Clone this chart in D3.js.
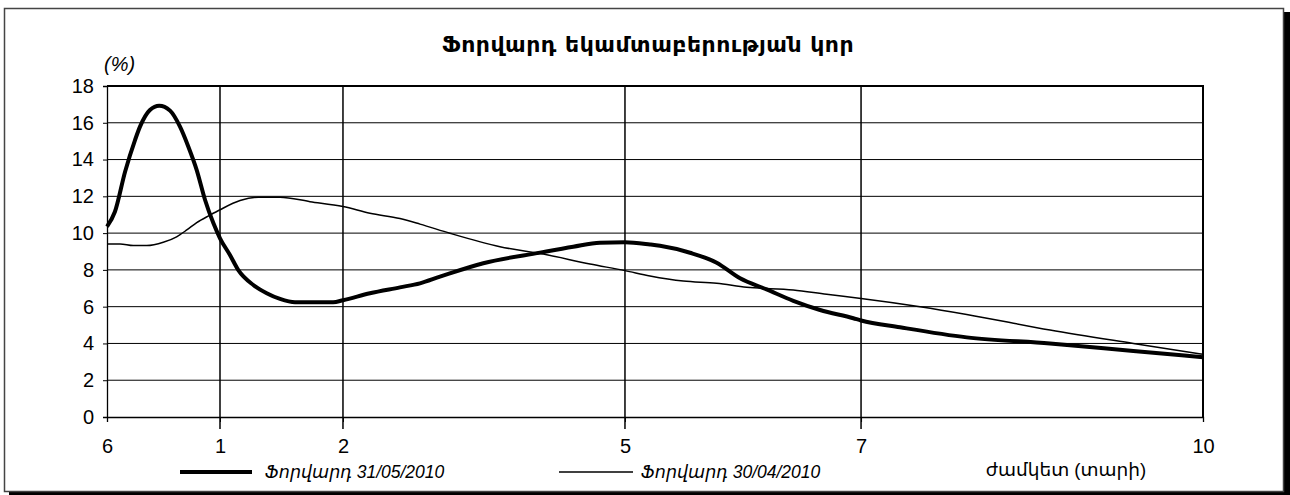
<!DOCTYPE html>
<html>
<head>
<meta charset="utf-8">
<script src="https://cdn.jsdelivr.net/npm/d3@7"></script>
<style>
  body { margin: 0; background: #fff; }
  svg text { font-family: "Liberation Sans", "DejaVu Sans", sans-serif; fill: #000; }
</style>
</head>
<body>
<div id="chart"></div>
<script>
// data (maturity in years, forward rate in %)
const xTickValues = [0.5, 1, 2, 5, 7, 10];
const xTickLabels = ["6", "1", "2", "5", "7", "10"];
const yTickValues = [0, 2, 4, 6, 8, 10, 12, 14, 16, 18];

const maturities0531 = [0.5, 0.535, 0.58, 0.624, 0.646, 0.69, 0.731, 0.779, 0.823, 0.86, 0.897, 0.934, 0.971,
  1.0, 1.081, 1.149, 1.271, 1.38, 1.488, 1.61, 1.92,
  2.0, 2.287, 2.606, 2.819, 3.032, 3.493, 4.096, 4.45, 4.734, 5.0,
  5.212, 5.297, 5.551, 5.777, 5.975, 6.2, 6.426, 6.653, 6.935, 7.0,
  7.342, 7.927, 8.658, 9.389, 10.0];
const forward0531 = [10.35, 11.16, 13.34, 15.06, 15.79, 16.7, 16.93, 16.66, 15.79, 14.7, 13.43, 11.8, 10.53,
  9.72, 8.81, 7.99, 7.18, 6.73, 6.42, 6.24, 6.24,
  6.35, 6.73, 7.05, 7.27, 7.63, 8.36, 8.94, 9.26, 9.48, 9.5,
  9.38, 9.31, 8.93, 8.39, 7.54, 6.94, 6.32, 5.82, 5.37, 5.25,
  4.88, 4.33, 4.0, 3.59, 3.25];

const maturities0430 = [0.5, 0.558, 0.616, 0.676, 0.749, 0.808, 0.853, 0.897, 0.956,
  1.0, 1.163, 1.312, 1.488, 1.732,
  2.0, 2.287, 2.606, 2.819, 3.138, 3.67, 4.131, 4.628, 5.0,
  5.212, 5.494, 5.777, 6.031, 6.426, 6.709, 7.0,
  7.518, 7.927, 8.658, 9.389, 10.0];
const forward0430 = [9.41, 9.41, 9.32, 9.32, 9.5, 9.8, 10.17, 10.57, 10.98,
  11.27, 11.77, 11.95, 11.95, 11.71,
  11.45, 11.08, 10.79, 10.49, 9.99, 9.26, 8.86, 8.32, 7.96,
  7.67, 7.39, 7.27, 7.05, 6.91, 6.67, 6.45,
  6.0, 5.58, 4.73, 4.0, 3.41];

const seriesNames = ["Ֆորվարդ 31/05/2010", "Ֆորվարդ 30/04/2010"];
const titleText = "Ֆորվարդ եկամտաբերության կոր";
const yUnitText = "(%)";
const xAxisTitle = "ժամկետ (տարի)";

// layout
const width = 1290, height = 495;
const plot = { left: 107, top: 86, right: 1203, bottom: 417 };
const plotW = plot.right - plot.left;

const svg = d3.select("#chart").append("svg")
  .attr("width", width)
  .attr("height", height);

// outer frame with shadow
svg.append("rect")
  .attr("x", 9).attr("y", 12)
  .attr("width", width - 9).attr("height", height - 12)
  .attr("fill", "#000");
svg.append("rect")
  .attr("x", 4.5).attr("y", 8.5)
  .attr("width", 1279).attr("height", 483)
  .attr("fill", "#fff")
  .attr("stroke", "#444")
  .attr("stroke-width", 1.5);

// scales - the x axis is not evenly spaced, so map each labelled maturity to its spot
const xFrac = [0, 0.1031, 0.2153, 0.4726, 0.688, 1];
const x = d3.scaleLinear()
  .domain(xTickValues)
  .range(xFrac.map(f => plot.left + f * plotW));
const y = d3.scaleLinear()
  .domain([0, 18])
  .range([plot.bottom, plot.top]);

// horizontal grid
svg.append("g")
  .selectAll("line")
  .data(yTickValues.filter(v => v > 0 && v < 18))
  .join("line")
  .attr("x1", plot.left).attr("x2", plot.right)
  .attr("y1", d => y(d)).attr("y2", d => y(d))
  .attr("stroke", "#000")
  .attr("stroke-width", 1);

// vertical grid
svg.append("g")
  .selectAll("line")
  .data(xTickValues.slice(1, -1))
  .join("line")
  .attr("x1", d => x(d)).attr("x2", d => x(d))
  .attr("y1", plot.top).attr("y2", plot.bottom + 12)
  .attr("stroke", "#000")
  .attr("stroke-width", 1.5);

// plot border top + right
svg.append("path")
  .attr("d", `M${plot.left},${plot.top}H${plot.right}V${plot.bottom}`)
  .attr("fill", "none")
  .attr("stroke", "#000")
  .attr("stroke-width", 2);

// y axis
const yAxis = svg.append("g")
  .attr("transform", `translate(${plot.left},0)`)
  .call(d3.axisLeft(y).tickValues(yTickValues).tickSize(4).tickPadding(9));
yAxis.select(".domain").attr("stroke", "#000").attr("stroke-width", 1.3);
yAxis.selectAll("text")
  .style("font-size", "20px")
  .attr("font-family", null);

// x axis
const xAxis = svg.append("g")
  .attr("transform", `translate(0,${plot.bottom})`)
  .call(d3.axisBottom(x).tickValues(xTickValues)
    .tickFormat((d, i) => xTickLabels[i])
    .tickSize(5).tickPadding(17));
xAxis.select(".domain").attr("stroke", "#000").attr("stroke-width", 1.3);
xAxis.selectAll(".tick line")
  .attr("y2", (d, i) => i === xTickValues.length - 1 ? 0 : 5);
xAxis.selectAll("text")
  .style("font-size", "20px")
  .attr("font-family", null);

// series lines
const line = d3.line()
  .x(d => x(d[0]))
  .y(d => y(d[1]))
  .curve(d3.curveMonotoneX);

const series = [
  { name: seriesNames[0], pts: d3.zip(maturities0531, forward0531), w: 4 },
  { name: seriesNames[1], pts: d3.zip(maturities0430, forward0430), w: 1.5 }
];

svg.append("g")
  .selectAll("path")
  .data(series)
  .join("path")
  .attr("d", d => line(d.pts))
  .attr("fill", "none")
  .attr("stroke", "#000")
  .attr("stroke-width", d => d.w)
  .attr("stroke-linejoin", "round");

// title
svg.append("text")
  .attr("x", 648).attr("y", 52)
  .attr("text-anchor", "middle")
  .style("font-family", "'DejaVu Sans', sans-serif")
  .style("font-weight", "bold")
  .style("font-size", "22px")
  .style("letter-spacing", "0.5px")
  .text(titleText);

// (%) label
svg.append("text")
  .attr("x", 104).attr("y", 71)
  .style("font-style", "italic")
  .style("font-size", "20px")
  .text(yUnitText);

// legend
const legendX = [180, 559];
const legend = svg.append("g")
  .selectAll("g")
  .data(series)
  .join("g")
  .attr("transform", (d, i) => `translate(${legendX[i]},472)`);
legend.append("line")
  .attr("x1", 0).attr("x2", (d, i) => i === 0 ? 72 : 74)
  .attr("stroke", "#000")
  .attr("stroke-width", d => d.w);
legend.append("text")
  .attr("x", (d, i) => i === 0 ? 85 : 82)
  .attr("dy", "0.35em")
  .style("font-style", "italic")
  .style("font-size", "17.5px")
  .text(d => d.name);

// x axis title
svg.append("text")
  .attr("x", 1066).attr("y", 470)
  .attr("dy", "0.35em")
  .attr("text-anchor", "middle")
  .style("font-size", "18.5px")
  .text(xAxisTitle);
</script>
</body>
</html>
